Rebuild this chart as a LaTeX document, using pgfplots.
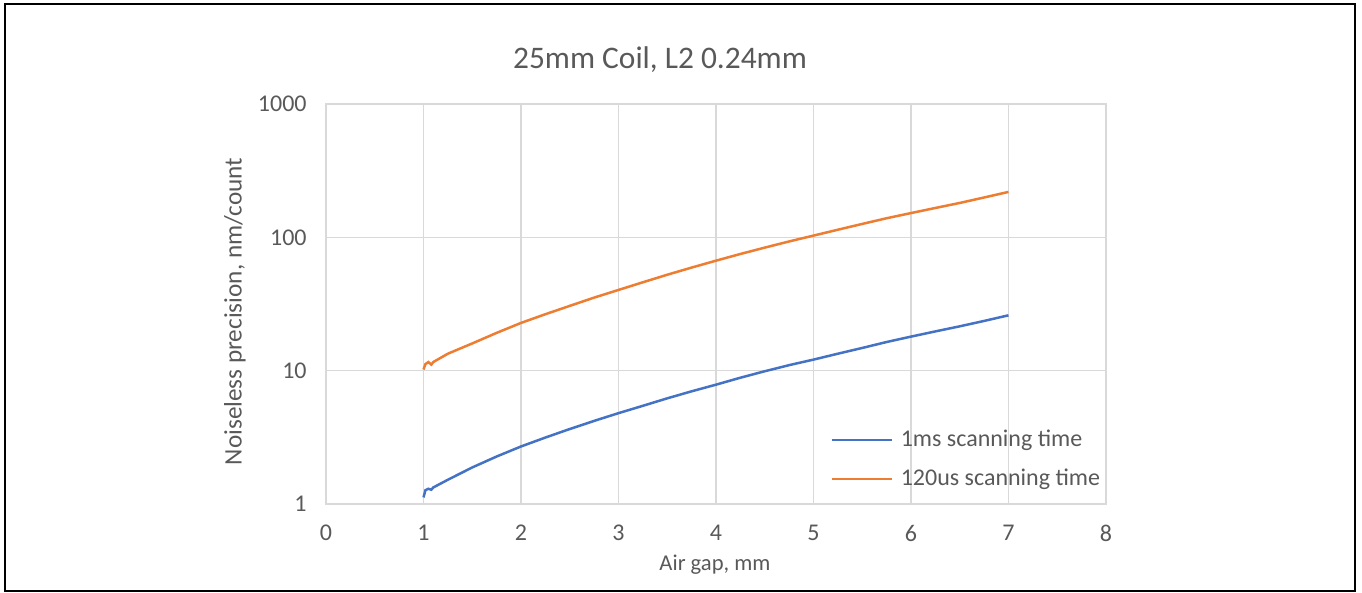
\documentclass[border=0pt]{standalone}
\usepackage{pgfplots}
\pgfplotsset{compat=1.18}
\usepackage{pgfplotstable}
\usepackage{fontspec}
\setmainfont{Carlito}
\definecolor{txtgray}{HTML}{595959}
\definecolor{gridgray}{HTML}{D9D9D9}
\definecolor{sblue}{HTML}{4472C4}
\definecolor{sorange}{HTML}{ED7D31}

\pgfplotstableread{
x y
1.00 1.12
1.02 1.27
1.05 1.30
1.08 1.28
1.10 1.33
1.25 1.52
1.50 1.88
1.75 2.27
2.00 2.70
2.25 3.15
2.50 3.65
2.75 4.20
3.00 4.80
3.25 5.45
3.50 6.20
3.75 7.00
4.00 7.85
4.25 8.85
4.50 9.90
4.75 11.0
5.00 12.1
5.25 13.4
5.50 14.8
5.75 16.4
6.00 18.0
6.25 19.7
6.50 21.5
6.75 23.6
7.00 26.0
}\bluedata

\pgfplotstableread{
x y
1.00 10.2
1.02 11.2
1.05 11.6
1.08 11.1
1.10 11.6
1.25 13.4
1.50 16.0
1.75 19.2
2.00 22.8
2.25 26.5
2.50 30.6
2.75 35.3
3.00 40.3
3.25 46.0
3.50 52.4
3.75 59.3
4.00 66.8
4.25 75.0
4.50 83.7
4.75 93.1
5.00 103
5.25 114
5.50 126
5.75 139
6.00 152
6.25 166
6.50 181
6.75 199
7.00 219
}\orangedata

\begin{document}
\begin{tikzpicture}
\useasboundingbox (0,0) rectangle (681pt,296.5pt);
\draw[black, line width=1pt] (2.5pt,1pt) rectangle (677.5pt,294.5pt);
\begin{axis}[
  at={(163pt,44.5pt)}, anchor=south west,
  scale only axis, width=390pt, height=200pt,
  xmin=0, xmax=8, ymin=1, ymax=1000, ymode=log,
  xtick={0,1,2,3,4,5,6,7,8},
  ytick={1,10,100,1000},
  yticklabels={1,10,100,1000},
  xticklabels={0,1,2,3,4,5,6,7,8},
  /pgf/number format/assume math mode=true,
  major tick length=0pt, minor tick num=0,
  grid=major,
  major grid style={gridgray, line width=0.75pt},
  axis line style={gridgray, line width=0.75pt},
  tick style={draw=none},
  xticklabel style={font=\fontsize{12}{14}\selectfont, text=txtgray, anchor=center, inner sep=0pt, yshift=-14.5pt},
  yticklabel style={font=\fontsize{12}{14}\selectfont, text=txtgray, anchor=east, inner sep=0pt, xshift=-9.5pt},
  legend style={at={(rel axis cs:0.646,0.111)}, anchor=west, draw=none, fill=none,
    inner sep=0pt, row sep=7.5pt,
    font=\fontsize{12}{14}\selectfont, text=txtgray,
    nodes={text height=9pt, text depth=3pt, inner sep=0pt}},
  legend cell align=left,
  /tikz/every odd column/.append style={column sep=4pt},
  legend image code/.code={\draw[#1] (0pt,0pt) -- (30pt,0pt);},
]
\addplot[sblue, line width=1.25pt] table[x=x,y=y] {\bluedata};
\addlegendentry{1ms scanning time}
\addplot[sorange, line width=1.25pt] table[x=x,y=y] {\orangedata};
\addlegendentry{120us scanning time}
\end{axis}
\node[text=txtgray, font=\fontsize{15.7}{18}\selectfont, inner sep=0pt] at (330pt,266.5pt) {25mm Coil, L2 0.24mm};
\node[text=txtgray, font=\fontsize{11.3}{13}\selectfont, inner sep=0pt] at (357.5pt,14pt) {Air gap, mm};
\node[text=txtgray, font=\fontsize{12.6}{15}\selectfont, inner sep=0pt, rotate=90] at (117.5pt,140.75pt) {Noiseless precision, nm/count};
\end{tikzpicture}
\end{document}
